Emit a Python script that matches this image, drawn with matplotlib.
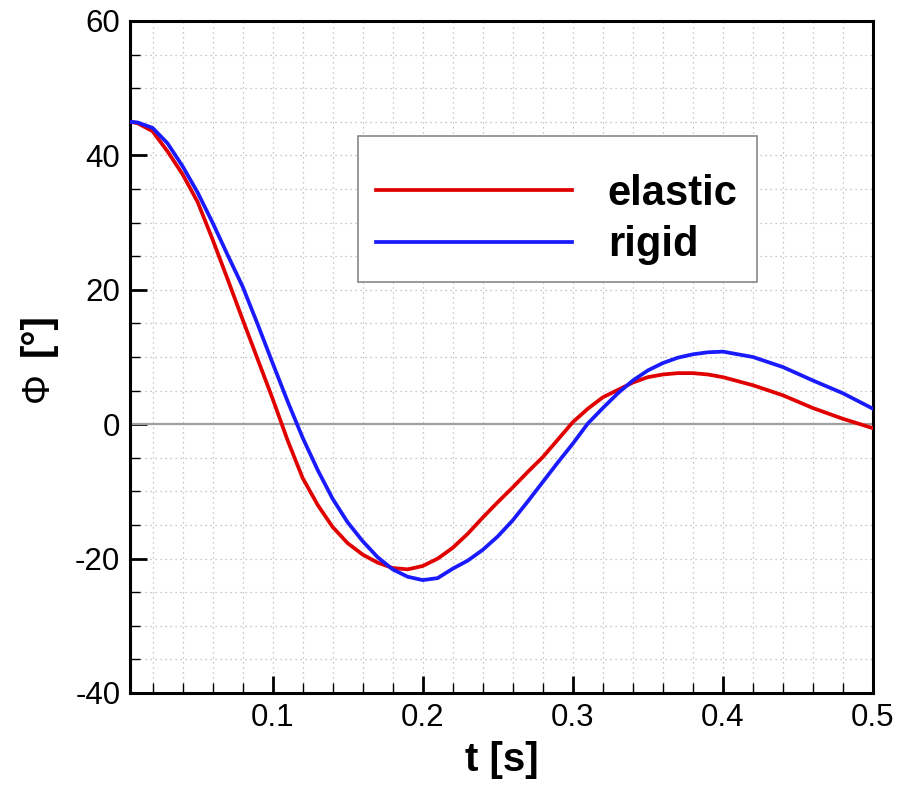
import numpy as np
import matplotlib
matplotlib.use("Agg")
import matplotlib.pyplot as plt
from matplotlib.patches import Rectangle
from matplotlib.ticker import MultipleLocator

plt.rcParams['font.family'] = ['Liberation Sans', 'DejaVu Sans']
plt.rcParams['axes.unicode_minus'] = False

# ---- data ----
t_elastic = [0.005, 0.01, 0.02, 0.03, 0.04, 0.05, 0.06, 0.07, 0.08, 0.09,
             0.10, 0.11, 0.12, 0.13, 0.14, 0.15, 0.16, 0.17, 0.18, 0.19,
             0.20, 0.21, 0.22, 0.23, 0.24, 0.25, 0.26, 0.27, 0.28, 0.29,
             0.30, 0.31, 0.32, 0.33, 0.34, 0.35, 0.36, 0.37, 0.38, 0.39,
             0.40, 0.42, 0.44, 0.46, 0.48, 0.50]
phi_elastic = [45.0, 44.8, 43.6, 40.6, 37.2, 33.1, 27.5, 21.6, 15.6, 9.7,
               3.8, -2.4, -8.0, -12.0, -15.3, -17.7, -19.4, -20.6, -21.4, -21.6,
               -21.1, -20.0, -18.4, -16.3, -13.9, -11.6, -9.4, -7.1, -4.9, -2.3,
               0.3, 2.3, 4.0, 5.1, 6.2, 7.0, 7.4, 7.6, 7.6, 7.4,
               7.0, 5.8, 4.3, 2.4, 0.8, -0.6]

t_rigid = [0.005, 0.01, 0.02, 0.03, 0.04, 0.05, 0.06, 0.07, 0.08, 0.09,
           0.10, 0.11, 0.12, 0.13, 0.14, 0.15, 0.16, 0.17, 0.18, 0.19,
           0.20, 0.21, 0.22, 0.23, 0.24, 0.25, 0.26, 0.27, 0.28, 0.29,
           0.30, 0.31, 0.32, 0.33, 0.34, 0.35, 0.36, 0.37, 0.38, 0.39,
           0.40, 0.42, 0.44, 0.46, 0.48, 0.50]
phi_rigid = [45.0, 44.9, 44.1, 41.8, 38.4, 34.5, 30.0, 25.2, 20.5, 14.9,
             9.1, 3.4, -2.0, -6.8, -11.1, -14.6, -17.4, -19.8, -21.6, -22.7,
             -23.2, -22.9, -21.5, -20.3, -18.7, -16.7, -14.3, -11.5, -8.6, -5.7,
             -2.9, 0.1, 2.4, 4.6, 6.5, 8.0, 9.1, 9.9, 10.4, 10.7,
             10.8, 10.0, 8.5, 6.5, 4.6, 2.3]

series_labels = ['elastic', 'rigid']
x_ticks = [0.1, 0.2, 0.3, 0.4, 0.5]
y_ticks = [-40, -20, 0, 20, 40, 60]

# ---- figure ----
fig = plt.figure(figsize=(9.10, 7.86), dpi=100)
ax = fig.add_axes([130/910, 93/786, 743/910, 672/786])

ax.set_xlim(0.005, 0.5)
ax.set_ylim(-40, 60)

ax.xaxis.set_minor_locator(MultipleLocator(0.02))
ax.yaxis.set_minor_locator(MultipleLocator(5))
ax.set_xticks(x_ticks)
ax.set_yticks(y_ticks)
ax.set_xticklabels([f"{v:.1f}" for v in x_ticks])
ax.set_yticklabels([str(v) for v in y_ticks])

ax.grid(True, which='both', linestyle=(0, (1, 3)), color='#b5b5b5', linewidth=0.9)
ax.set_axisbelow(True)
ax.axhline(0, color='#a0a0a0', linewidth=1.6, zorder=1.5)

l1, = ax.plot(t_elastic, phi_elastic, color='#e00000', linewidth=2.7, zorder=3)
l2, = ax.plot(t_rigid, phi_rigid, color='#1a1aff', linewidth=2.7, zorder=3)

for s in ax.spines.values():
    s.set_linewidth(2.2)
    s.set_color('black')

ax.tick_params(which='both', direction='in', top=False, right=False)
ax.tick_params(which='major', length=12, width=2.0, labelsize=22.5, pad=7)
ax.tick_params(which='minor', length=7, width=1.0)

ax.set_xlabel('t [s]', fontsize=29, fontweight='bold')
ax.xaxis.set_label_coords(0.5, -0.072)

# y label: thin Phi + bold brackets
fig.text(38/910, 1 - 387/786, 'Φ', rotation=90, fontsize=27,
         ha='center', va='center')
fig.text(38/910, 1 - 335/786, '[°]', rotation=90, fontsize=29,
         fontweight='bold', ha='center', va='center')

# legend box
ax.add_patch(Rectangle((0.307, 0.612), 0.844 - 0.307, 0.829 - 0.612,
                       transform=ax.transAxes, facecolor='white',
                       edgecolor='#888888', linewidth=1.2, zorder=4))
leg = ax.legend([l1, l2], series_labels, loc='center',
                bbox_to_anchor=(0.5747, 0.7046), frameon=False,
                prop={'size': 30, 'weight': 'bold'},
                handlelength=4.7, handletextpad=0.85, labelspacing=0.27,
                borderpad=0)
leg.set_zorder(5)

fig.savefig('out.png', dpi=100)
